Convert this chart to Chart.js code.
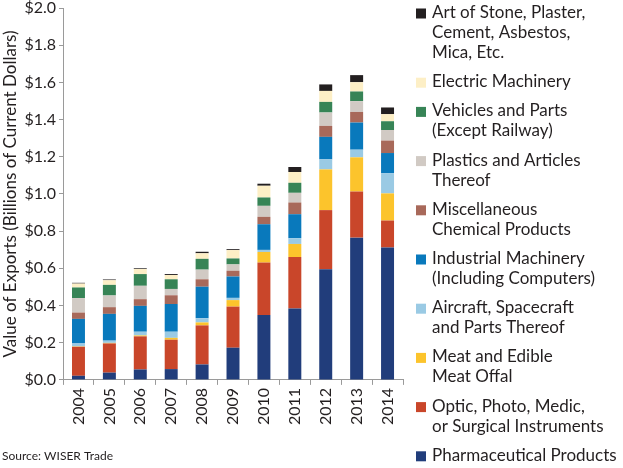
<!DOCTYPE html>
<html>
<head>
<meta charset="utf-8">
<script src="https://cdn.jsdelivr.net/npm/chart.js@4"></script>
<style>
  html, body { margin: 0; padding: 0; background: #fff; }
  #wrap { position: relative; width: 623px; height: 468px; }
</style>
</head>
<body>
<div id="wrap"><canvas id="c" width="623" height="468"></canvas></div>
<script>
const years = ['2004','2005','2006','2007','2008','2009','2010','2011','2012','2013','2014'];
const yTicks = ['$0.0','$0.2','$0.4','$0.6','$0.8','$1.0','$1.2','$1.4','$1.6','$1.8','$2.0'];

const pharma     = [0.022, 0.039, 0.056, 0.058, 0.083, 0.173, 0.349, 0.384, 0.595, 0.765, 0.712];
const optic      = [0.156, 0.157, 0.178, 0.158, 0.210, 0.221, 0.282, 0.277, 0.318, 0.248, 0.145];
const meat       = [0.002, 0.003, 0.005, 0.010, 0.016, 0.035, 0.057, 0.070, 0.219, 0.184, 0.146];
const aircraft   = [0.016, 0.012, 0.020, 0.033, 0.023, 0.012, 0.011, 0.031, 0.054, 0.041, 0.108];
const industrial = [0.132, 0.144, 0.139, 0.149, 0.169, 0.115, 0.138, 0.129, 0.121, 0.146, 0.109];
const misc       = [0.034, 0.036, 0.036, 0.047, 0.040, 0.031, 0.040, 0.063, 0.059, 0.057, 0.067];
const plastics   = [0.078, 0.063, 0.072, 0.034, 0.052, 0.034, 0.059, 0.052, 0.072, 0.058, 0.057];
const vehicles   = [0.057, 0.057, 0.063, 0.052, 0.058, 0.032, 0.045, 0.054, 0.057, 0.052, 0.047];
const electric   = [0.021, 0.025, 0.027, 0.023, 0.030, 0.045, 0.063, 0.058, 0.059, 0.050, 0.038];
const artStone   = [0.004, 0.004, 0.004, 0.005, 0.008, 0.005, 0.011, 0.027, 0.035, 0.038, 0.036];

const seriesLabels = [
  ['Pharmaceutical Products'],
  ['Optic, Photo, Medic,', 'or Surgical Instruments'],
  ['Meat and Edible', 'Meat Offal'],
  ['Aircraft, Spacecraft', 'and Parts Thereof'],
  ['Industrial Machinery', '(Including Computers)'],
  ['Miscellaneous', 'Chemical Products'],
  ['Plastics and Articles', 'Thereof'],
  ['Vehicles and Parts', '(Except Railway)'],
  ['Electric Machinery'],
  ['Art of Stone, Plaster,', 'Cement, Asbestos,', 'Mica, Etc.']
];
const seriesData = [pharma, optic, meat, aircraft, industrial, misc, plastics, vehicles, electric, artStone];
const seriesColors = ['#213d7b', '#c9462a', '#fcc42c', '#9acae4', '#0979bc', '#a8695a', '#d1cac4', '#378456', '#fdefc6', '#231f20'];

const FONT = 'Lato, "Noto Sans", sans-serif';

const legendPlugin = {
  id: 'sideLegend',
  afterDraw(chart) {
    const ctx = chart.ctx;
    ctx.save();
    ctx.font = '17px ' + FONT;
    ctx.textBaseline = 'middle';
    ctx.textAlign = 'left';
    const lineH = 20, gap = 9.2;
    let y = 12.5;
    for (let i = chart.data.datasets.length - 1; i >= 0; i--) {
      const ds = chart.data.datasets[i];
      ctx.fillStyle = ds.backgroundColor;
      ctx.fillRect(416, y - 4, 10, 10);
      ctx.fillStyle = '#231f20';
      ds.label.forEach((line, k) => {
        ctx.fillText(line, 432, y + k * lineH);
      });
      y += ds.label.length * lineH + gap;
    }
    ctx.font = '12px ' + FONT;
    ctx.fillStyle = '#231f20';
    ctx.fillText('Source: WISER Trade', 2, 456);
    ctx.restore();
  }
};

new Chart(document.getElementById('c'), {
  type: 'bar',
  data: {
    labels: years,
    datasets: seriesData.map((d, i) => ({
      label: seriesLabels[i],
      data: d,
      backgroundColor: seriesColors[i],
      borderWidth: 0,
      barPercentage: 0.84,
      categoryPercentage: 0.5
    }))
  },
  options: {
    responsive: false,
    animation: false,
    devicePixelRatio: 1,
    layout: { padding: { left: 0, right: 220, top: 8, bottom: 40 } },
    plugins: { legend: { display: false }, tooltip: { enabled: false } },
    scales: {
      x: {
        stacked: true,
        border: { color: '#9a9a9a', width: 1 },
        grid: { display: true, drawOnChartArea: false, tickLength: 5, color: '#9a9a9a', offset: true },
        ticks: { color: '#231f20', font: { family: FONT, size: 16 }, minRotation: 90, maxRotation: 90, padding: 3 }
      },
      y: {
        stacked: true,
        min: 0, max: 2.0,
        afterFit: (s) => { s.paddingTop = 0; s.paddingBottom = 0; },
        border: { color: '#9a9a9a', width: 1 },
        grid: { display: true, drawOnChartArea: false, tickLength: 4, color: '#9a9a9a' },
        ticks: {
          stepSize: 0.2,
          color: '#231f20',
          font: { family: FONT, size: 16 },
          padding: 3,
          callback: (v, idx) => yTicks[idx]
        },
        title: {
          display: true,
          text: 'Value of Exports (Billions of Current Dollars)',
          color: '#231f20',
          font: { family: FONT, size: 17 },
          padding: { top: 0, bottom: 1 }
        }
      }
    }
  },
  plugins: [legendPlugin]
});
</script>
</body>
</html>
